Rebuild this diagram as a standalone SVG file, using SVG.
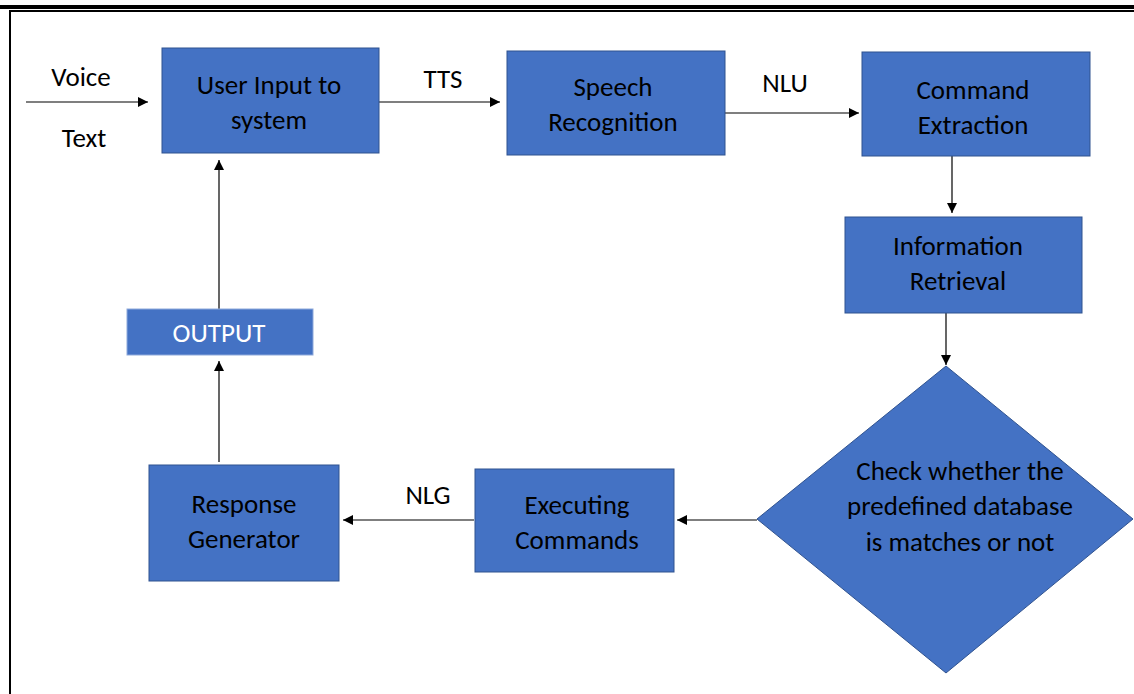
<svg xmlns="http://www.w3.org/2000/svg" width="1134" height="694" viewBox="0 0 1134 694">
  <style>
    .box { fill: #4472C4; stroke: #2F528F; stroke-width: 1; }
    .lbl { font-family: Carlito, Lato, "Liberation Sans", sans-serif; font-size: 27px; fill: #000; text-anchor: middle; }
    .out { fill: #fff; }
    .edge { stroke: #000; stroke-width: 1.2; fill: none; marker-end: url(#arrow); }
  </style>
  <defs>
    <marker id="arrow" viewBox="0 0 10 10" refX="10" refY="5" markerWidth="10" markerHeight="10" markerUnits="userSpaceOnUse" orient="auto">
      <path d="M0,0 L10,5 L0,10 z" fill="#000"/>
    </marker>
  </defs>

  <rect width="1134" height="694" fill="#fff"/>

  <!-- page frame rules -->
  <g id="frame">
    <rect x="0" y="5" width="1134" height="4" fill="#000"/>
    <rect x="9" y="10" width="1125" height="2" fill="#000"/>
    <rect x="9" y="10" width="2" height="684" fill="#000"/>
  </g>

  <!-- connectors -->
  <g id="connectors">
    <path class="edge" d="M26,102 H148"/>
    <path class="edge" d="M379,102 H500"/>
    <path class="edge" d="M725,113 H859"/>
    <path class="edge" d="M952,156 V213"/>
    <path class="edge" d="M946,313 V365"/>
    <path class="edge" d="M757,520 H677"/>
    <path class="edge" d="M474,520 H343"/>
    <path class="edge" d="M219,462 V361"/>
    <path class="edge" d="M219,309 V160"/>
    <text class="lbl" x="81" y="86">Voice</text>
    <text class="lbl" x="84" y="147">Text</text>
    <text class="lbl" x="443" y="88">TTS</text>
    <text class="lbl" x="785" y="92">NLU</text>
    <text class="lbl" x="428" y="504">NLG</text>
  </g>

  <g id="user-input">
    <rect class="box" x="162" y="48" width="217" height="105"/>
    <text class="lbl" x="269" y="94">User Input to</text>
    <text class="lbl" x="269" y="129">system</text>
  </g>

  <g id="speech-recognition">
    <rect class="box" x="507" y="51" width="218" height="104"/>
    <text class="lbl" x="613" y="96">Speech</text>
    <text class="lbl" x="613" y="131">Recognition</text>
  </g>

  <g id="command-extraction">
    <rect class="box" x="862" y="52" width="228" height="104"/>
    <text class="lbl" x="973" y="99">Command</text>
    <text class="lbl" x="973" y="134">Extraction</text>
  </g>

  <g id="information-retrieval">
    <rect class="box" x="845" y="217" width="237" height="96"/>
    <text class="lbl" x="958" y="255">Information</text>
    <text class="lbl" x="958" y="290">Retrieval</text>
  </g>

  <g id="database-check">
    <polygon class="box" points="946,366 1133,519 946,673 757,519"/>
    <text class="lbl" x="960" y="480">Check whether the</text>
    <text class="lbl" x="960" y="515">predefined database</text>
    <text class="lbl" x="960" y="551">is matches or not</text>
  </g>

  <g id="executing-commands">
    <rect class="box" x="475" y="469" width="199" height="103"/>
    <text class="lbl" x="577" y="514">Executing</text>
    <text class="lbl" x="577" y="549">Commands</text>
  </g>

  <g id="response-generator">
    <rect class="box" x="149" y="465" width="190" height="116"/>
    <text class="lbl" x="244" y="513">Response</text>
    <text class="lbl" x="244" y="548">Generator</text>
  </g>

  <g id="output">
    <rect class="box" x="127" y="309" width="186" height="46" style="stroke:#8EA9DB"/>
    <text class="lbl out" x="219" y="342">OUTPUT</text>
  </g>
</svg>
